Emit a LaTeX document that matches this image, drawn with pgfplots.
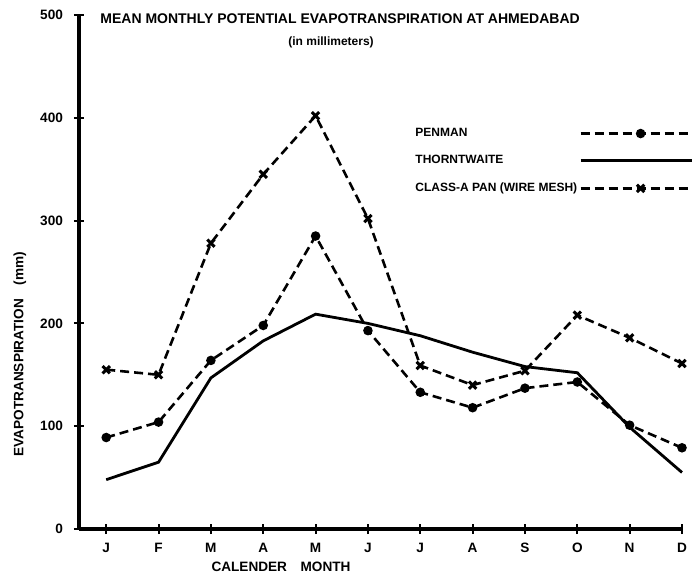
\documentclass[border=0pt]{standalone}
\usepackage{pgfplots}
\pgfplotsset{compat=1.18}
\usepackage{fontspec}
\setmainfont{Liberation Sans}
\newcommand{\sz}[1]{\fontsize{#1}{#1}\selectfont\bfseries}
\begin{document}
\begin{tikzpicture}
\begin{axis}[
  at={(0,0)}, anchor=south west,
  scale only axis, width=301.5pt, height=257pt,
  xmin=-0.52, xmax=11, ymin=0, ymax=500,
  axis lines=left, axis line style={line width=1.8pt, -},
  xtick={0,...,11},
  xticklabels={J,F,M,A,M,J,J,A,S,O,N,D},
  ytick={0,100,...,500},
  tick align=center, major tick length=5pt,
  tick style={line width=1pt, black},
  /pgf/number format/assume math mode=true,
  ticklabel style={font=\sz{6.8}},
  yticklabel style={xshift=-2pt},
  xticklabel style={yshift=-1pt},
  xlabel={CALENDER\quad MONTH},
  ylabel={EVAPOTRANSPIRATION\quad (mm)},
  every axis x label/.style={at={(axis description cs:0.335,0)}, anchor=north, yshift=-13pt, font=\sz{6.8}},
  every axis y label/.style={at={(axis description cs:-0.098,0.34)}, rotate=90, anchor=center, font=\sz{6.8}},
  legend style={at={(axis description cs:0.554,0.785)}, anchor=north west, draw=none, fill=none,
    font=\sz{6}, row sep=6pt, inner sep=0pt, nodes={inner sep=1pt}},
  legend cell align=left,
  legend plot pos=right,
  legend image code/.code={\draw[mark repeat=2,mark phase=2,#1] plot coordinates {(0pt,0pt) (30pt,0pt) (60pt,0pt)};},
  clip=false,
]
\addplot[black, line width=1.3pt, dash pattern=on 4.5pt off 2.5pt, mark=*, mark size=1.7pt, mark options={solid}]
  coordinates {(0,89) (1,104) (2,164) (3,198) (4,285) (5,193) (6,133) (7,118) (8,137) (9,143) (10,101) (11,79)};
\addlegendentry{PENMAN}
\addplot[black, line width=1.4pt, no marks]
  coordinates {(0,48) (1,65) (2,147) (3,183) (4,209) (5,200) (6,188) (7,172) (8,158) (9,152) (10,99) (11,55)};
\addlegendentry{THORNTWAITE}
\addplot[black, line width=1.3pt, dash pattern=on 4.5pt off 2.5pt, mark=x, mark size=2.6pt, mark options={solid, line width=1.5pt}]
  coordinates {(0,155) (1,150) (2,278) (3,345) (4,402) (5,302) (6,159) (7,140) (8,154) (9,208) (10,186) (11,161)};
\addlegendentry{CLASS-A PAN (WIRE MESH)}
\node[font=\sz{7}, anchor=center] at (axis description cs:0.433,0.992) {MEAN MONTHLY POTENTIAL EVAPOTRANSPIRATION AT AHMEDABAD};
\node[font=\sz{6}, anchor=center] at (axis description cs:0.418,0.947) {(in millimeters)};
\end{axis}
\pgfresetboundingbox
\path (-39.5pt,-25.5pt) rectangle (306.5pt,264.5pt);
\end{tikzpicture}
\end{document}
